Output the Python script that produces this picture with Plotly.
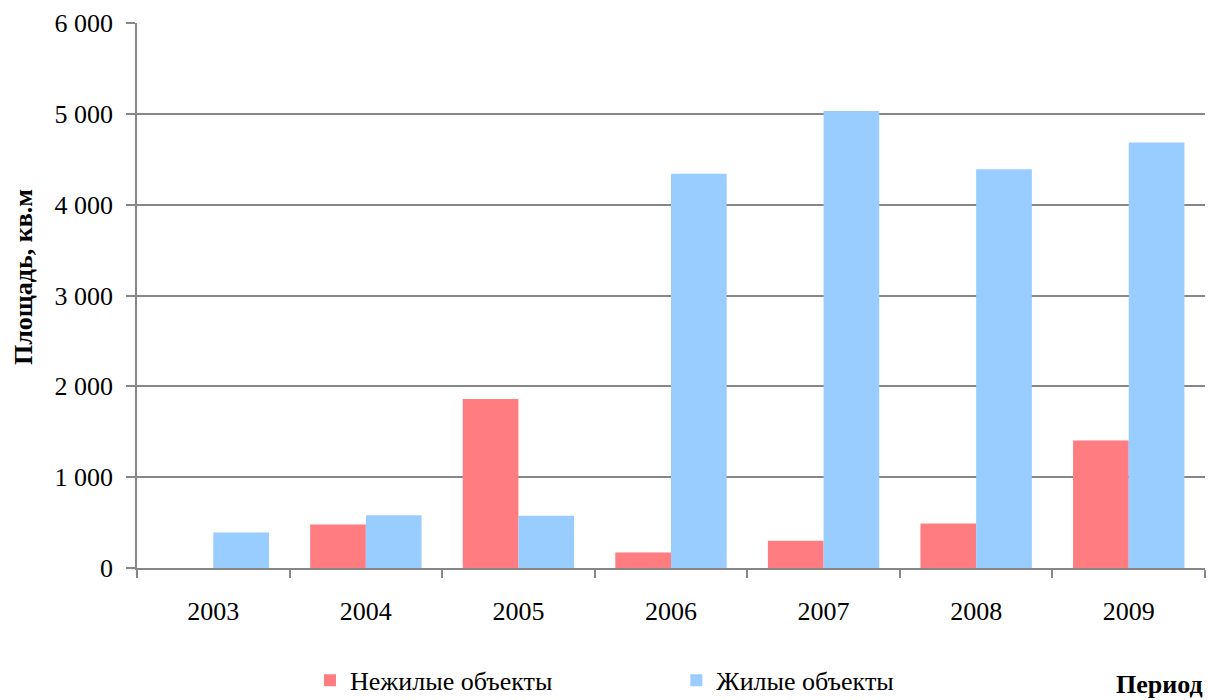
import plotly.graph_objects as go

years = ["2003", "2004", "2005", "2006", "2007", "2008", "2009"]
nonresidential = [0, 480, 1860, 170, 300, 490, 1405]
residential = [390, 580, 575, 4340, 5030, 4390, 4685]

y_ticks = [0, 1000, 2000, 3000, 4000, 5000, 6000]

FONT = "Liberation Serif"
GRID = "#878787"
FS = 26

fig = go.Figure()
fig.add_trace(go.Bar(x=years, y=nonresidential, name="Нежилые объекты",
                     marker=dict(color="#FF7C80", line=dict(width=0)), legend="legend"))
fig.add_trace(go.Bar(x=years, y=residential, name="Жилые объекты",
                     marker=dict(color="#99CCFF", line=dict(width=0)), legend="legend2"))

fig.update_layout(
    width=1208, height=700,
    margin=dict(l=137, r=3, t=23, b=132, autoexpand=False),
    paper_bgcolor="white", plot_bgcolor="white",
    barmode="group", bargap=0.27, bargroupgap=0,
    separators=", ",
    font=dict(family=FONT, size=FS, color="black"),
    showlegend=True,
    legend=dict(orientation="h", x=0.162, y=-0.206, xanchor="left", yanchor="middle",
                font=dict(family=FONT, size=FS), bgcolor="rgba(0,0,0,0)", itemwidth=30),
    legend2=dict(orientation="h", x=0.505, y=-0.206, xanchor="left", yanchor="middle",
                 font=dict(family=FONT, size=FS), bgcolor="rgba(0,0,0,0)", itemwidth=30),
    xaxis=dict(
        showline=True, linecolor=GRID, linewidth=1.5,
        ticks="outside", tickson="boundaries", ticklen=8, tickcolor=GRID, tickwidth=1.5,
        ticklabelstandoff=19,
        tickfont=dict(family=FONT, size=FS),
        showgrid=False,
    ),
    yaxis=dict(
        range=[0, 6000], tickvals=y_ticks, tickformat=",d",
        showline=True, linecolor=GRID, linewidth=1.5,
        ticks="outside", ticklen=9, tickcolor=GRID, tickwidth=1.5,
        ticklabelstandoff=8,
        showgrid=True, gridcolor=GRID, gridwidth=1.5,
        zeroline=False,
        tickfont=dict(family=FONT, size=FS),
    ),
    annotations=[
        dict(text="<b>Площадь, кв.м</b>", xref="paper", yref="paper",
             x=-0.1058, y=0.534, xanchor="center", yanchor="middle", textangle=-90,
             showarrow=False, font=dict(family=FONT, size=FS, color="black")),
        dict(text="<b>Период</b>", xref="paper", yref="paper", x=1.0, y=-0.214,
             xanchor="right", yanchor="middle", showarrow=False,
             font=dict(family=FONT, size=FS, color="black")),
    ],
)

fig.write_html("out.html")
